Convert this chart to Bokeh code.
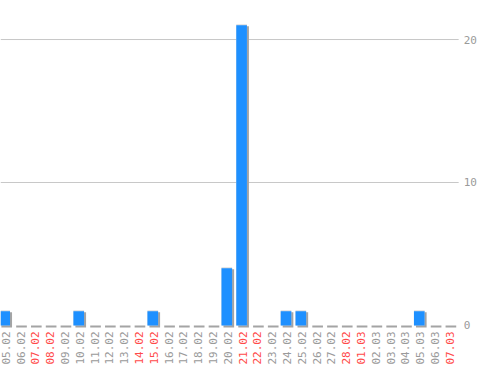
from math import pi

from bokeh.core.properties import value
from bokeh.embed import file_html
from bokeh.models import ColumnDataSource, Grid, Range1d
from bokeh.plotting import figure
from bokeh.resources import INLINE

# Daily counts, 05.02 - 07.03
dates = ["05.02", "06.02", "07.02", "08.02", "09.02", "10.02", "11.02", "12.02",
         "13.02", "14.02", "15.02", "16.02", "17.02", "18.02", "19.02", "20.02",
         "21.02", "22.02", "23.02", "24.02", "25.02", "26.02", "27.02", "28.02",
         "01.03", "02.03", "03.03", "04.03", "05.03", "06.03", "07.03"]
counts = [1, 0, 0, 0, 0, 1, 0, 0, 0, 0, 1, 0, 0, 0, 0, 4,
          21, 0, 0, 1, 1, 0, 0, 0, 0, 0, 0, 0, 1, 0, 0]
weekend_days = ["07.02", "08.02", "14.02", "15.02", "21.02", "22.02",
                "28.02", "01.03", "07.03"]
y_ticks = [0, 10, 20]
grid_ticks = [10, 20]

GRAY = "#9a9a9a"
RED = "#ff4a4a"
FONT = "DejaVu Sans Mono"

# plot area in data units; the frame continues to the right for the value scale
PLOT_LEFT, PLOT_RIGHT = -0.284, 30.66
FRAME_RIGHT = 32.0
Y_BOTTOM, Y_TOP = -2.87, 22.73

# pixel-sized decorations expressed in data units
PX_X = 1 / 14.8
PX_Y = 1 / 14.3

idx = list(range(len(dates)))
src = ColumnDataSource(dict(
    x=idx,
    count=counts,
    date=dates,
    zero=[0] * len(dates),
    shadow_x=[i + 2 * PX_X for i in idx],
    shadow_top=[c - PX_Y if c > 0 else 0 for c in counts],
    shadow_bottom=[-2 * PX_Y] * len(dates),
    hl_top=[c + PX_Y if c > 0 else 0 for c in counts],
    label_color=[RED if d in weekend_days else GRAY for d in dates],
))

p = figure(width=478, height=366, output_backend="svg",
           toolbar_location=None, x_axis_location=None, y_axis_location=None,
           x_range=Range1d(PLOT_LEFT, FRAME_RIGHT), y_range=Range1d(Y_BOTTOM, Y_TOP),
           min_border=0)
p.outline_line_color = None
p.background_fill_color = "white"
p.border_fill_color = "white"
p.center = [r for r in p.center if not isinstance(r, Grid)]

# horizontal grid lines across the plot area
p.segment(x0=[PLOT_LEFT] * len(grid_ticks), x1=[PLOT_RIGHT] * len(grid_ticks),
          y0=grid_ticks, y1=grid_ticks, line_color="#c8c8c8", line_width=1)

bar_w = 0.72
# drop shadow, top highlight, then the bar itself
p.vbar(x="shadow_x", top="shadow_top", bottom="shadow_bottom", width=bar_w,
       source=src, fill_color="#a4a4a4", line_color=None)
p.vbar(x="x", top="hl_top", bottom="zero", width=bar_w, source=src,
       fill_color="#dcdcdc", line_color=None)
p.vbar(x="x", top="count", bottom="zero", width=bar_w, source=src,
       fill_color="#1e90ff", line_color=None)

# date labels, rotated, weekends in red
p.text(x="x", y="zero", text="date", source=src, angle=pi / 2,
       text_align="right", text_baseline="middle", x_offset=1, y_offset=6,
       text_font=value(FONT), text_font_size="11px", text_color="label_color")

# value scale on the right
p.text(x=[PLOT_RIGHT] * len(y_ticks), y=y_ticks, text=[str(t) for t in y_ticks],
       text_align="left", text_baseline="middle", x_offset=5,
       text_font=value(FONT), text_font_size="11px", text_color=GRAY)

open("out.html", "w").write(file_html(p, INLINE))
